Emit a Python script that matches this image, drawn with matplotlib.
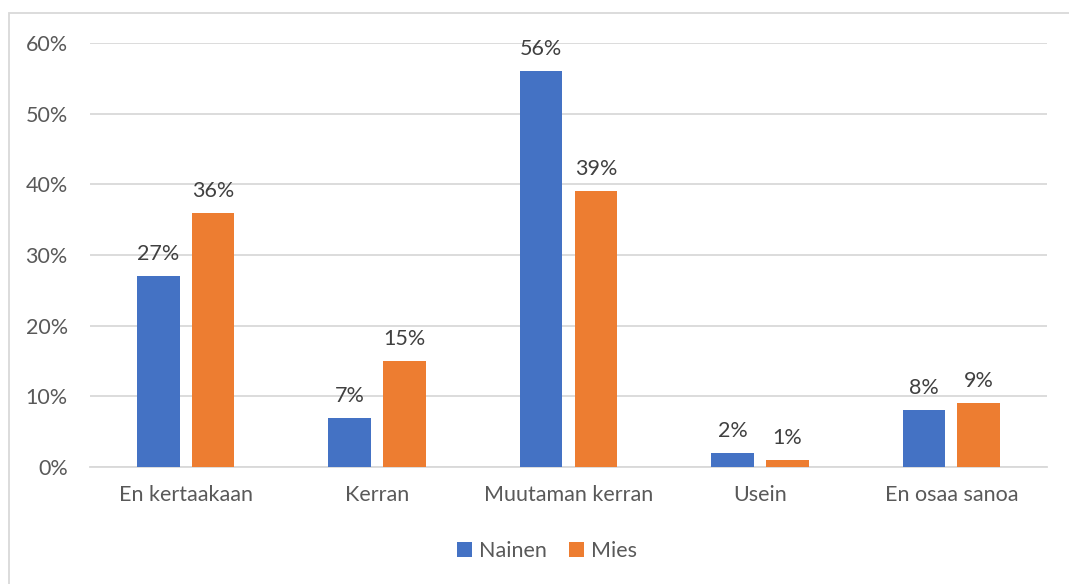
import matplotlib.pyplot as plt
import numpy as np
from matplotlib.patches import Rectangle

plt.rcParams['font.family'] = ['Lato', 'DejaVu Sans']

# survey answers, share of respondents (%)
categories = ['En kertaakaan', 'Kerran', 'Muutaman kerran', 'Usein', 'En osaa sanoa']
nainen = [27, 7, 56, 2, 8]
mies = [36, 15, 39, 1, 9]
series_names = ['Nainen', 'Mies']
yticks = [0, 10, 20, 30, 40, 50, 60]

FS = 15.5
W, H = 1069, 584
fig = plt.figure(figsize=(W / 100, H / 100), dpi=100)
ax = fig.add_axes([90 / W, (H - 467) / H, (1047 - 90) / W, (467 - 43) / H])

# chart border, runs off the right and bottom edge
fig.patches.append(Rectangle((9 / W, -10 / H), (W + 10 - 9) / W, (H - 13 + 10) / H,
                             transform=fig.transFigure, fill=False,
                             edgecolor='#D9D9D9', linewidth=1.3))

x = np.arange(len(categories))
bw = 0.223
off = (bw + 0.0627) / 2
b1 = ax.bar(x - off, nainen, bw, color='#4472C4', label=series_names[0], zorder=3)
b2 = ax.bar(x + off, mies, bw, color='#ED7D31', label=series_names[1], zorder=3)

for bars, vals in ((b1, nainen), (b2, mies)):
    for b, v in zip(bars, vals):
        ax.annotate(f'{v}%', (b.get_x() + b.get_width() / 2, v), xytext=(0, 12),
                    textcoords='offset pixels', ha='center', va='bottom',
                    fontsize=FS, color='#404040')

ax.set_xlim(-0.5, len(categories) - 0.5)
ax.set_ylim(0, 60)
ax.set_yticks(yticks)
ax.set_yticklabels([f'{t}%' for t in yticks])
ax.set_xticks(x)
ax.set_xticklabels(categories)
ax.tick_params(axis='both', length=0, labelsize=FS, colors='#595959')
ax.tick_params(axis='y', pad=16)
ax.tick_params(axis='x', pad=13)
ax.grid(axis='y', color='#D9D9D9', linewidth=1.3, zorder=0)
for s in ['left', 'right', 'top']:
    ax.spines[s].set_visible(False)
ax.spines['bottom'].set_color('#D9D9D9')
ax.spines['bottom'].set_linewidth(1.3)

leg = fig.legend(loc='center', bbox_to_anchor=(547 / W, (H - 551) / H), ncol=2,
                 frameon=False, fontsize=FS, handlelength=0.7, handleheight=0.7,
                 handletextpad=0.35, columnspacing=1.0)
for t in leg.get_texts():
    t.set_color('#595959')

fig.savefig('out.png', dpi=100)
